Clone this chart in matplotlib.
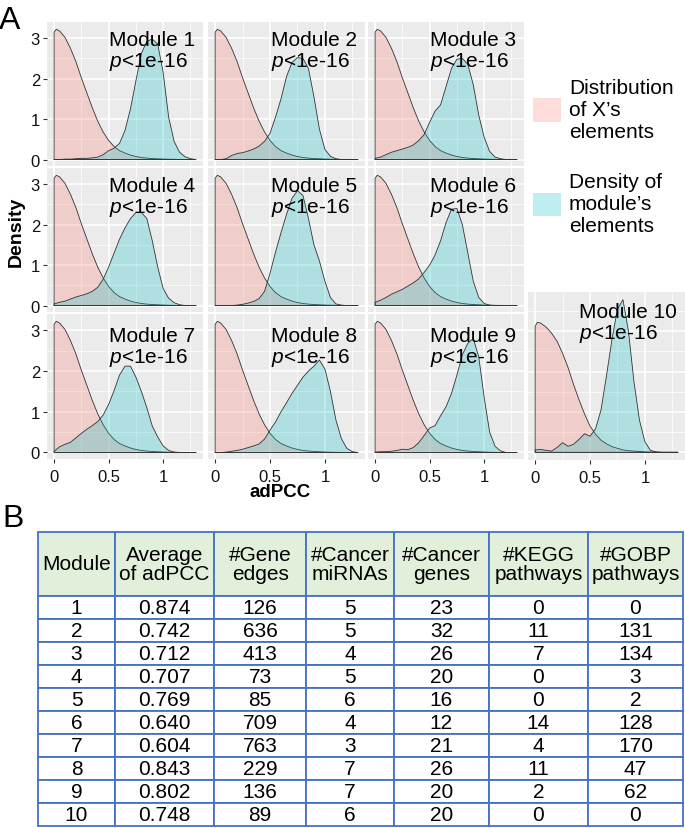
import matplotlib
matplotlib.use("Agg")
import matplotlib.pyplot as plt
from matplotlib.patches import Patch

plt.rcParams['font.family'] = 'Liberation Sans'
plt.rcParams['mathtext.fontset'] = 'custom'
plt.rcParams['mathtext.it'] = 'Liberation Sans:italic'
plt.rcParams['mathtext.rm'] = 'Liberation Sans'

# ---- panel A: densities ----
pink_x = [0, 0.02, 0.05, 0.1, 0.15, 0.2, 0.25, 0.3, 0.35, 0.4, 0.45, 0.5, 0.55, 0.6,
          0.65, 0.7, 0.75, 0.8, 0.85, 0.9, 0.95, 1.0, 1.05, 1.1, 1.15, 1.2, 1.25, 1.3]
# distribution of X's elements (modules 1-9 share it)
pink_d = [3.15, 3.22, 3.18, 3.02, 2.75, 2.42, 2.02, 1.65, 1.28, 0.95, 0.68, 0.47, 0.32, 0.22,
          0.16, 0.11, 0.075, 0.05, 0.035, 0.025, 0.018, 0.012, 0.008, 0.005, 0.003, 0.002, 0.001, 0.0]
# module 10 panel
pink_d10 = [3.12, 3.22, 3.2, 3.1, 2.95, 2.75, 2.45, 2.1, 1.68, 1.3, 0.95, 0.65, 0.45, 0.3,
            0.21, 0.14, 0.1, 0.06, 0.04, 0.03, 0.02, 0.01, 0.006, 0.004, 0.002, 0.001, 0.0, 0.0]

teal_x = [0, 0.05, 0.1, 0.15, 0.2, 0.25, 0.3, 0.35, 0.4, 0.45, 0.5, 0.55, 0.6, 0.65,
          0.7, 0.75, 0.8, 0.85, 0.9, 0.95, 1.0, 1.05, 1.1, 1.15, 1.2, 1.25, 1.3]
teal_m1 = [0.0, 0.0, 0.01, 0.01, 0.02, 0.03, 0.03, 0.04, 0.06, 0.12, 0.22, 0.28, 0.40, 0.72,
           1.25, 1.95, 2.62, 2.92, 2.98, 2.85, 2.15, 1.05, 0.45, 0.18, 0.07, 0.02, 0.0]
teal_m2 = [0.0, 0.0, 0.02, 0.10, 0.15, 0.17, 0.21, 0.26, 0.33, 0.45, 0.65, 1.05, 1.5, 2.05,
           2.4, 2.52, 2.5, 2.25, 1.55, 0.75, 0.25, 0.08, 0.02, 0.0, 0.0, 0.0, 0.0]
teal_m3 = [0.03, 0.06, 0.12, 0.18, 0.22, 0.26, 0.30, 0.36, 0.47, 0.62, 0.92, 1.2, 1.35, 1.8,
           2.25, 2.48, 2.5, 2.35, 1.85, 1.1, 0.55, 0.2, 0.06, 0.02, 0.0, 0.0, 0.0]
teal_m4 = [0.04, 0.08, 0.11, 0.16, 0.21, 0.25, 0.29, 0.35, 0.45, 0.65, 0.95, 1.3, 1.64, 1.92,
           2.15, 2.3, 2.3, 2.15, 1.6, 0.95, 0.42, 0.18, 0.07, 0.02, 0.0, 0.0, 0.0]
teal_m5 = [0.0, 0.0, 0.0, 0.0, 0.01, 0.03, 0.06, 0.10, 0.17, 0.35, 0.8, 1.32, 1.8, 2.25,
           2.65, 2.84, 2.72, 2.15, 1.5, 1.1, 0.6, 0.2, 0.04, 0.01, 0.0, 0.0, 0.0]
teal_m6 = [0.08, 0.13, 0.2, 0.28, 0.34, 0.4, 0.48, 0.56, 0.66, 0.82, 1.0, 1.25, 1.6, 2.05,
           2.38, 2.4, 2.0, 1.3, 0.6, 0.2, 0.05, 0.01, 0.0, 0.0, 0.0, 0.0, 0.0]
teal_m7 = [0.03, 0.14, 0.2, 0.25, 0.36, 0.47, 0.57, 0.66, 0.76, 0.92, 1.18, 1.52, 1.9, 2.12,
           2.12, 1.85, 1.5, 1.1, 0.65, 0.38, 0.16, 0.05, 0.01, 0.0, 0.0, 0.0, 0.0]
teal_m8 = [0.0, 0.0, 0.01, 0.03, 0.05, 0.08, 0.12, 0.16, 0.21, 0.33, 0.55, 0.75, 1.0, 1.22,
           1.45, 1.65, 1.85, 2.0, 2.12, 2.27, 2.05, 1.5, 0.8, 0.34, 0.1, 0.02, 0.0]
teal_m9 = [0.01, 0.02, 0.02, 0.03, 0.05, 0.08, 0.07, 0.12, 0.24, 0.42, 0.6, 0.66, 0.9, 1.12,
           1.45, 1.9, 2.4, 2.68, 2.8, 2.35, 1.35, 0.5, 0.15, 0.04, 0.0, 0.0, 0.0]
teal_m10 = [0.06, 0.07, 0.05, 0.03, 0.12, 0.24, 0.15, 0.2, 0.32, 0.46, 0.4, 0.58, 1.05, 1.9,
            2.8, 3.55, 3.78, 3.0, 1.75, 0.8, 0.26, 0.05, 0.01, 0.0, 0.0, 0.0, 0.0]
teal_all = [teal_m1, teal_m2, teal_m3, teal_m4, teal_m5, teal_m6, teal_m7, teal_m8, teal_m9, teal_m10]
p_label = "$p$<1e-16"
legend_labels = ["Distribution\nof X\u2019s\nelements", "Density of\nmodule\u2019s\nelements"]

# ---- panel B: table ----
col_labels = ["Module", "Average\nof adPCC", "#Gene\nedges", "#Cancer\nmiRNAs",
              "#Cancer\ngenes", "#KEGG\npathways", "#GOBP\npathways"]
modules = [1, 2, 3, 4, 5, 6, 7, 8, 9, 10]
avg_adpcc = [0.874, 0.742, 0.712, 0.707, 0.769, 0.640, 0.604, 0.843, 0.802, 0.748]
gene_edges = [126, 636, 413, 73, 85, 709, 763, 229, 136, 89]
cancer_mirnas = [5, 5, 4, 5, 6, 4, 3, 7, 7, 6]
cancer_genes = [23, 32, 26, 20, 16, 12, 21, 26, 20, 20]
kegg = [0, 11, 7, 0, 0, 14, 4, 11, 2, 0]
gobp = [0, 131, 134, 3, 2, 128, 170, 47, 62, 0]

PINK = '#F8766D'
TEAL = '#00BFC4'
W, H = 685, 829
fig = plt.figure(figsize=(W / 100, H / 100), dpi=100)


def px_axes(left, top, width, height):
    return fig.add_axes([left / W, 1 - (top + height) / H, width / W, height / H])


# pixel boxes of the facet panels (left, top, width, height)
boxes = [(47, 23, 156, 144), (208, 23, 157, 144), (368, 23, 156, 144),
         (47, 169, 156, 144), (208, 169, 157, 144), (368, 169, 156, 144),
         (47, 315, 156, 145), (208, 315, 157, 145), (368, 315, 156, 145),
         (528, 293, 157, 168)]
text_top = [3.2, 3.2, 3.2, 3.2, 3.2, 3.2, 3.1, 3.1, 3.1, 3.72]

for i, box in enumerate(boxes):
    ax = px_axes(*box)
    ax.set_facecolor('#EBEBEB')
    for s in ax.spines.values():
        s.set_visible(False)
    pd = pink_d10 if i == 9 else pink_d
    ax.fill_between(pink_x, pd, 0, facecolor=PINK, alpha=0.25, lw=0)
    ax.fill_between(pink_x, pd, 0, facecolor='none', edgecolor='#333333', lw=0.6)
    ax.fill_between(teal_x, teal_all[i], 0, facecolor=TEAL, alpha=0.25, lw=0)
    ax.fill_between(teal_x, teal_all[i], 0, facecolor='none', edgecolor='#333333', lw=0.6)
    ax.set_xlim(-0.065, 1.365)
    if i == 9:
        ax.set_ylim(-0.19, 3.97)
        ax.set_yticks([0.5, 1.5, 2.5, 3.5], minor=True)
    else:
        ax.set_ylim(-0.16, 3.4)
        ax.set_yticks([0.5, 1.5, 2.5], minor=True)
    ax.set_xticks([0, 0.5, 1])
    ax.set_xticklabels(['0', '0.5', '1'])
    ax.set_xticks([0.25, 0.75, 1.25], minor=True)
    ax.set_yticks([0, 1, 2, 3])
    ax.grid(which='major', color='white', lw=1.1)
    ax.grid(which='minor', color='white', lw=0.5)
    ax.set_axisbelow(True)
    ax.tick_params(which='minor', length=0)
    ax.tick_params(which='major', length=3, width=0.8, color='#333333',
                   labelsize=12, labelcolor='#111111', pad=2)
    if i % 3 != 0 or i == 9:
        ax.tick_params(axis='y', left=False, labelleft=False)
    if i < 6:
        ax.tick_params(axis='x', bottom=False, labelbottom=False)
    else:
        ax.tick_params(axis='x', pad=4)
    ax.text(1.29, text_top[i], f"Module {modules[i]}\n{p_label}", ha='right',
            multialignment='left', va='top', fontsize=15, linespacing=1.05)

fig.text(-1 / W, 1 - 6 / H, 'A', fontsize=23, va='top', ha='left')
fig.text(16 / W, 1 - 232 / H, 'Density', fontsize=14, fontweight='bold',
         rotation=90, ha='center', va='center')
fig.text(280 / W, 1 - 493 / H, 'adPCC', fontsize=13.5, fontweight='bold',
         ha='center', va='center')

handles = [Patch(facecolor=PINK, alpha=0.25, lw=0), Patch(facecolor=TEAL, alpha=0.25, lw=0)]
leg = fig.legend(handles, legend_labels, loc='upper left', bbox_to_anchor=(533 / W, 1 - 79 / H),
                 frameon=False, fontsize=15, handlelength=1.35, handleheight=1.35,
                 handletextpad=0.38, labelspacing=1.5, borderpad=0, borderaxespad=0)
for t in leg.get_texts():
    t.set_linespacing(1.2)

# table
fig.text(2 / W, 1 - 504 / H, 'B', fontsize=23, va='top', ha='left')
tax = px_axes(38, 533, 645, 294)
tax.axis('off')
cell_text = []
for k in range(len(modules)):
    cell_text.append([str(modules[k]), f"{avg_adpcc[k]:.3f}", str(gene_edges[k]),
                      str(cancer_mirnas[k]), str(cancer_genes[k]), str(kegg[k]), str(gobp[k])])
col_w = [77, 99, 92, 87.5, 95, 99, 95]
tbl = tax.table(cellText=cell_text, colLabels=col_labels, colWidths=col_w,
                cellLoc='center', colLoc='center', bbox=[0, 0, 1, 1])
tbl.auto_set_font_size(False)
for (r, c), cell in tbl.get_celld().items():
    cell.set_edgecolor('#4472C4')
    cell.set_linewidth(1.3)
    cell.set_height(64 if r == 0 else 23)
    txt = cell.get_text()
    txt.set_fontsize(15)
    if r == 0:
        cell.set_facecolor('#E2EFDA')
        txt.set_linespacing(1.05)

fig.savefig('out.png', dpi=100)
